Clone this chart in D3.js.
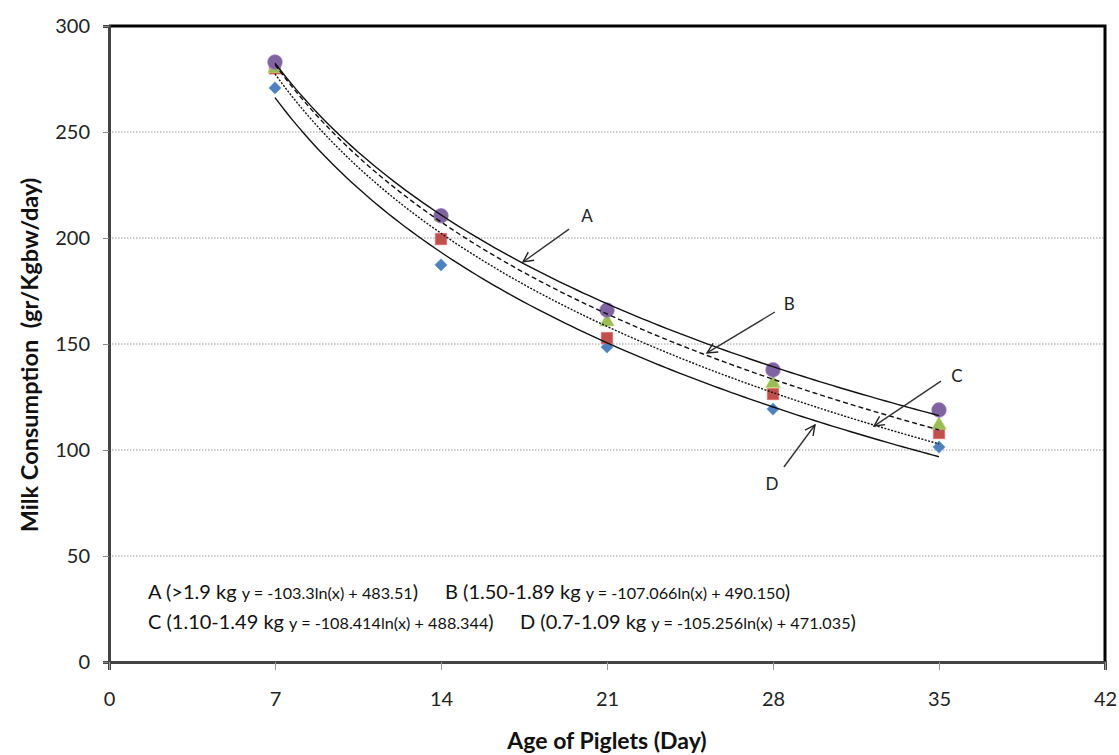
<!DOCTYPE html>
<html><head><meta charset="utf-8">
<script src="https://cdn.jsdelivr.net/npm/d3@7"></script>
<style>body{margin:0;background:#fff}svg{display:block}text{font-family:Lato,"Open Sans",sans-serif}</style>
</head><body>
<svg id="c" width="1119" height="755"></svg>
<script>
// ---- data ----
const days = [7, 14, 21, 28, 35];
const seriesA = [283, 210.5, 166, 137.8, 118.9]; // >1.9 kg (circle)
const seriesB = [280, 210, 160.5, 131.5, 111.8]; // 1.50-1.89 kg (triangle)
const seriesC = [280, 199.5, 152.8, 126.4, 108]; // 1.10-1.49 kg (square)
const seriesD = [270.8, 187.3, 148.6, 119.3, 101.4]; // 0.7-1.09 kg (diamond)
const trendSlopes = [-103.3, -107.066, -108.414, -105.256];
const trendIntercepts = [483.51, 490.150, 488.344, 471.035];
const xTicks = [0, 7, 14, 21, 28, 35, 42];
const yTicks = [0, 50, 100, 150, 200, 250, 300];
const labels = ["A", "B", "C", "D"];
const legendGroups = ["A (>1.9 kg ", "B (1.50-1.89 kg ", "C (1.10-1.49 kg ", "D (0.7-1.09 kg "];
const legendEqs = ["y = -103.3ln(x) + 483.51", "y = -107.066ln(x) + 490.150", "y = -108.414ln(x) + 488.344", "y = -105.256ln(x) + 471.035"];
// annotation arrows: [textX, textY, fromX, fromY, toX, toY] in data units
const arrowsData = [
  [20.16, 210.4, 19.40, 204.2, 17.46, 188.7],
  [28.68, 168.9, 28.08, 165.1, 25.22, 145.8],
  [35.76, 134.9, 35.08, 132.5, 32.26, 111.3],
  [27.96, 84.0, 28.46, 92.0, 29.77, 111.8]
];

const svg = d3.select("#c");
const L = 109, R = 1105, T = 26, B = 662;
const x = d3.scaleLinear().domain([0, 42]).range([L, R]);
const y = d3.scaleLinear().domain([0, 300]).range([B, T]);

// gridlines
svg.append("g").selectAll("line").data(yTicks.filter(d => d > 0 && d < 300)).join("line")
  .attr("x1", L).attr("x2", R).attr("y1", d => y(d)).attr("y2", d => y(d))
  .attr("stroke", "#9a9a9a").attr("stroke-width", 1).attr("stroke-dasharray", "1.5,1.5");

// frame top & right
svg.append("path").attr("d", `M${L},${T}H${R}V${B}`).attr("fill", "none").attr("stroke", "#000").attr("stroke-width", 3);

// axes
const yAxis = d3.axisLeft(y).tickValues(yTicks).tickSize(6).tickPadding(13).tickFormat(d3.format("d"));
const gy = svg.append("g").attr("transform", `translate(${L},0)`).call(yAxis);
gy.select(".domain").attr("stroke", "#444").attr("stroke-width", 3);
gy.selectAll(".tick line").attr("stroke", "#888");
gy.selectAll("text").attr("font-size", 20).attr("fill", "#222").style("font-family", "Lato");

const xAxis = d3.axisBottom(x).tickValues(xTicks).tickSize(8).tickPadding(22).tickFormat(d3.format("d"));
const gx = svg.append("g").attr("transform", `translate(0,${B})`).call(xAxis);
gx.select(".domain").attr("stroke", "#444").attr("stroke-width", 3);
gx.selectAll(".tick line").attr("stroke", "#999");
gx.selectAll("text").attr("font-size", 20).attr("fill", "#222").style("font-family", "Lato");

// markers
const sym = (t, s) => d3.symbol().type(t).size(s)();
const mk = [
  {vals: seriesD, shape: d3.symbolSquare, size: 76, rot: 45, color: "#4F81BD"},
  {vals: seriesC, shape: d3.symbolSquare, size: 130, rot: 0, color: "#C0504D"},
  {vals: seriesB, shape: d3.symbolTriangle, size: 95, rot: 0, color: "#9BBB59"},
  {vals: seriesA, shape: d3.symbolCircle, size: 170, rot: 0, color: "#8064A2"}
];
mk.forEach(m => {
  svg.append("g").selectAll("path").data(days).join("path")
    .attr("transform", (d, i) => `translate(${x(d)},${y(m.vals[i])}) rotate(${m.rot})`)
    .attr("d", sym(m.shape, m.size)).attr("fill", m.color)
    .attr("stroke", d3.color(m.color).brighter(0.6)).attr("stroke-width", 0.6);
});

// trendlines
const dashes = [null, "5,3", "2,1.5", null];
const xs = d3.range(7, 35.01, 0.25);
const line = d3.line().x(d => x(d[0])).y(d => y(d[1])).curve(d3.curveLinear);
trendSlopes.forEach((a, i) => {
  const pts = xs.map(v => [v, a * Math.log(v) + trendIntercepts[i]]);
  svg.append("path").attr("d", line(pts)).attr("fill", "none")
    .attr("stroke", "#111").attr("stroke-width", 1.4)
    .attr("stroke-dasharray", dashes[i]);
});

// arrows
const defs = svg.append("defs");
defs.append("marker").attr("id", "ah").attr("viewBox", "0 0 12 12").attr("refX", 11).attr("refY", 6)
  .attr("markerWidth", 12).attr("markerHeight", 12).attr("markerUnits", "userSpaceOnUse").attr("orient", "auto")
  .append("path").attr("d", "M1,1L11,6L1,11").attr("fill", "none").attr("stroke", "#222").attr("stroke-width", 1.4);
arrowsData.forEach((a, i) => {
  svg.append("line").attr("x1", x(a[2])).attr("y1", y(a[3])).attr("x2", x(a[4])).attr("y2", y(a[5]))
    .attr("stroke", "#333").attr("stroke-width", 1.4).attr("marker-end", "url(#ah)");
  svg.append("text").attr("x", x(a[0])).attr("y", y(a[1])).attr("text-anchor", "middle").attr("dy", "0.35em")
    .attr("font-size", 17).attr("fill", "#222").text(labels[i]);
});

// legend text
const legPos = [[148, 599], [445, 599], [148, 629], [520, 629]];
legendGroups.forEach((g, i) => {
  const t = svg.append("text").attr("x", legPos[i][0]).attr("y", legPos[i][1]).attr("fill", "#111");
  t.append("tspan").attr("font-size", 20).text(g);
  t.append("tspan").attr("font-size", 16.2).text(legendEqs[i]);
  t.append("tspan").attr("font-size", 20).text(")");
});

// axis titles
svg.append("text").attr("x", 607).attr("y", 749).attr("text-anchor", "middle")
  .attr("font-size", 23).attr("font-weight", "bold").attr("fill", "#111").text("Age of Piglets (Day)");
svg.append("text").attr("transform", "translate(38,355) rotate(-90)").attr("text-anchor", "middle")
  .attr("font-size", 23.5).attr("font-weight", "bold").attr("fill", "#111").attr("xml:space", "preserve").text("Milk Consumption  (gr/Kgbw/day)");
</script>
</body></html>
